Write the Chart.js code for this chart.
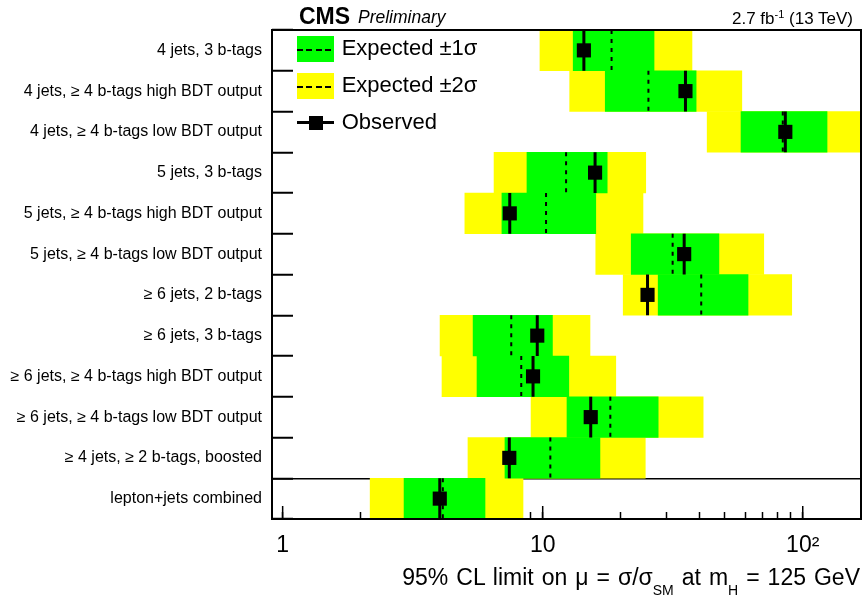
<!DOCTYPE html>
<html>
<head>
<meta charset="utf-8">
<title>ttH limits per category</title>
<script src="https://cdn.jsdelivr.net/npm/chart.js"></script>
<style>
  body { margin: 0; background: #fff; }
  #wrap { position: relative; width: 862px; height: 598px; font-family: "Liberation Sans", Arial, sans-serif; color: #000; }
  #wrap canvas { position: absolute; left: 0; top: 0; }
  .txt { position: absolute; line-height: 1; white-space: nowrap; }
  .sub { font-size: 14px; position: relative; top: 10px; }
  .sup { font-size: 11px; position: relative; top: -6px; }
  .swatch { position: absolute; left: 297px; width: 37px; height: 26px; }
  .dash { position: absolute; left: 0; top: 12.5px; width: 35px; height: 2px;
          background: repeating-linear-gradient(to right, #000 0 6px, transparent 6px 9.3px); }
  .box { position: absolute; background: #000; }
</style>
</head>
<body>
<div id="wrap">
  <canvas id="limitChart" width="862" height="598"></canvas>

  <!-- header -->
  <div class="txt" style="left:299px;top:4.5px;font-size:23px;font-weight:bold">CMS</div>
  <div class="txt" style="left:358px;top:9.2px;font-size:17.5px;font-style:italic">Preliminary</div>
  <div class="txt" style="right:9px;top:9.6px;font-size:17px">2.7 fb<span class="sup">-1</span> (13 TeV)</div>

  <!-- legend -->
  <div class="swatch" style="top:36px;background:#00ff00"><div class="dash"></div></div>
  <div class="txt" style="left:341.7px;top:36.7px;font-size:22px">Expected ±1σ</div>
  <div class="swatch" style="top:73px;background:#ffff00"><div class="dash"></div></div>
  <div class="txt" style="left:341.7px;top:74.1px;font-size:22px">Expected ±2σ</div>
  <div class="box" style="left:297px;top:121px;width:37px;height:3px"></div>
  <div class="box" style="left:309px;top:115.5px;width:14px;height:14px"></div>
  <div class="txt" style="left:341.7px;top:110.7px;font-size:22px">Observed</div>

  <!-- x axis title -->
  <div class="txt" style="right:2px;top:565.5px;font-size:23px;word-spacing:1.6px">95% CL limit on μ = σ/σ<span class="sub">SM</span> at m<span class="sub">H</span> = 125 GeV</div>
</div>

<script>
// ==========================================
// DATA (top row first)
// ==========================================
const categories = [
    '4 jets, 3 b-tags',
    '4 jets, ≥ 4 b-tags high BDT output',
    '4 jets, ≥ 4 b-tags low BDT output',
    '5 jets, 3 b-tags',
    '5 jets, ≥ 4 b-tags high BDT output',
    '5 jets, ≥ 4 b-tags low BDT output',
    '≥ 6 jets, 2 b-tags',
    '≥ 6 jets, 3 b-tags',
    '≥ 6 jets, ≥ 4 b-tags high BDT output',
    '≥ 6 jets, ≥ 4 b-tags low BDT output',
    '≥ 4 jets, ≥ 2 b-tags, boosted',
    'lepton+jets combined'
];

const observed = [14.4, 35.4, 85.7, 15.9, 7.47, 35.0, 25.3, 9.53, 9.18, 15.3, 7.44, 4.02];
const expected = [18.4, 25.5, 83.8, 12.3, 10.3, 31.6, 40.7, 7.57, 8.27, 18.2, 10.7, 4.13];
const minus1   = [13.1, 17.4, 57.9, 8.70, 6.97, 21.9, 27.8, 5.40, 5.59, 12.4, 7.16, 2.93];
const plus1    = [26.8, 38.9, 124,  17.7, 16.0, 47.6, 61.6, 10.9, 12.6, 27.8, 16.6, 6.00];
const minus2   = [9.76, 12.7, 42.9, 6.50, 5.02, 16.0, 20.4, 4.03, 4.10, 9.02, 5.16, 2.17];
const plus2    = [37.5, 58.3, 180,  24.9, 24.3, 70.8, 90.7, 15.2, 19.1, 41.4, 24.8, 8.40];

// x axis (log)
const xMin = 0.91;
const xMax = 167.5;
const xTickValues = [1, 2, 3, 4, 5, 6, 7, 8, 9, 10, 20, 30, 40, 50, 60, 70, 80, 90, 100];
const xMajorTicks = [1, 10, 100];
const xTickLabels = { 1: '1', 10: '10', 100: '10²' };

// the combined result is separated from the categories by a line
const separatorIndex = 11;

const fontFamily = '"Liberation Sans", Arial, sans-serif';

// vertical segment covering one whole row, rows split by empty points
function rowSegments(values) {
    return values.flatMap((v, i) => [{ x: v, y: i - 0.5 }, { x: v, y: i + 0.5 }, { x: null, y: null }]);
}

// ==========================================
// ROOT STYLE FRAME (box + long major ticks)
// ==========================================
const rootFrame = {
    id: 'rootFrame',
    afterDraw(chart) {
        const { ctx, chartArea: a } = chart;
        const xs = chart.scales.x;
        ctx.save();
        ctx.strokeStyle = '#000';
        ctx.lineWidth = 1.5;
        xMajorTicks.forEach(v => {
            const px = xs.getPixelForValue(v);
            ctx.beginPath();
            ctx.moveTo(px, a.bottom);
            ctx.lineTo(px, a.bottom - 13);
            ctx.stroke();
        });
        ctx.lineWidth = 2;
        ctx.strokeRect(a.left, a.top, a.right - a.left, a.bottom - a.top);
        ctx.restore();
    }
};

// ==========================================
// CHART
// ==========================================
new Chart(document.getElementById('limitChart'), {
    type: 'bar',
    data: {
        labels: categories,
        datasets: [
            {
                label: 'Expected ±2σ',
                data: minus2.map((v, i) => [v, plus2[i]]),
                backgroundColor: '#ffff00',
                yAxisID: 'y',
                order: 4
            },
            {
                label: 'Expected ±1σ',
                data: minus1.map((v, i) => [v, plus1[i]]),
                backgroundColor: '#00ff00',
                yAxisID: 'y',
                order: 3
            },
            {
                type: 'line',
                label: 'Expected',
                data: rowSegments(expected),
                yAxisID: 'yRow',
                borderColor: '#000',
                borderWidth: 2,
                borderDash: [4, 5],
                pointRadius: 0,
                spanGaps: false,
                order: 2
            },
            {
                type: 'line',
                label: 'Observed',
                data: rowSegments(observed),
                yAxisID: 'yRow',
                borderColor: '#000',
                borderWidth: 3,
                pointRadius: 0,
                spanGaps: false,
                order: 1
            },
            {
                type: 'line',
                label: 'Observed marker',
                data: observed.map((v, i) => ({ x: v, y: i })),
                yAxisID: 'yRow',
                showLine: false,
                pointStyle: 'rect',
                pointRadius: 10,
                pointBackgroundColor: '#000',
                pointBorderWidth: 0,
                order: 0
            }
        ]
    },
    options: {
        indexAxis: 'y',
        responsive: false,
        animation: false,
        devicePixelRatio: 1,
        layout: { autoPadding: false, padding: { top: 30, right: 1, left: 0, bottom: 0 } },
        datasets: {
            bar: { barPercentage: 1, categoryPercentage: 1, grouped: false, borderWidth: 0 }
        },
        plugins: {
            legend: { display: false },
            tooltip: { enabled: false }
        },
        scales: {
            x: {
                type: 'logarithmic',
                min: xMin,
                max: xMax,
                z: 1,
                afterFit: s => { s.height = 79; },
                afterBuildTicks: s => { s.ticks = xTickValues.map(v => ({ value: v })); },
                border: { display: false },
                grid: { drawOnChartArea: false, tickLength: -7, tickColor: '#000', tickWidth: 1.5 },
                ticks: {
                    autoSkip: false,
                    maxRotation: 0,
                    padding: 19.5,
                    color: '#000',
                    font: { family: fontFamily, size: 23 },
                    callback: v => xTickLabels[v] || ''
                }
            },
            y: {
                type: 'category',
                position: 'left',
                z: 1,
                afterFit: s => { s.width = 272; s.paddingTop = 0; s.paddingBottom = 0; },
                border: { display: false },
                grid: {
                    offset: true,
                    color: c => c.index === separatorIndex ? '#000' : 'rgba(0,0,0,0)',
                    lineWidth: 1.5,
                    tickColor: '#000',
                    tickLength: -21,
                    tickWidth: 2
                },
                ticks: { padding: 31, color: '#000', font: { family: fontFamily, size: 16 } }
            },
            // row coordinate for the vertical marks; same span as the category axis
            yRow: {
                axis: 'y',
                type: 'linear',
                position: 'right',
                offset: false,
                min: -0.5,
                max: 11.5,
                reverse: true,
                afterFit: s => { s.width = 0; s.paddingTop = 0; s.paddingBottom = 0; },
                border: { display: false },
                grid: { display: false, offset: false },
                ticks: { display: false }
            }
        }
    },
    plugins: [rootFrame]
});
</script>
</body>
</html>
